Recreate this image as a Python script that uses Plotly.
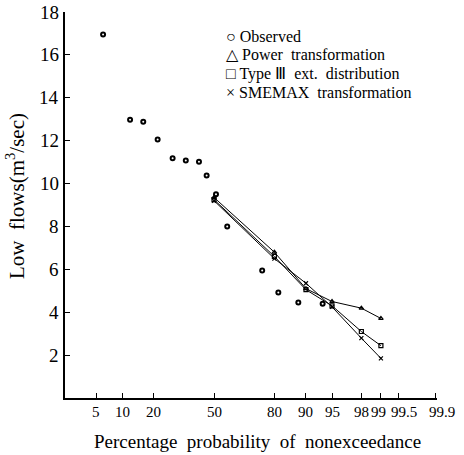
from statistics import NormalDist
import plotly.graph_objects as go

nd = NormalDist()
def z(p):
    return nd.inv_cdf(p / 100.0)

# Observed low flows (plotting position %, m3/sec)
obs_p = [6.1, 12.1, 16.2, 21.6, 28.2, 34.7, 41.7, 45.9, 51.1, 57.3, 74.9, 81.5, 88.0, 93.5]
obs_q = [16.95, 12.98, 12.88, 12.05, 11.18, 11.08, 11.02, 10.38, 9.5, 8.0, 5.94, 4.92, 4.45, 4.39]

# Estimated quantiles at selected probabilities
fit_p = [50, 80, 90, 95, 98, 99]
power_q = [9.35, 6.8, 5.1, 4.5, 4.19, 3.71]
type3_q = [9.25, 6.6, 5.05, 4.3, 3.1, 2.44]
smemax_q = [9.2, 6.5, 5.35, 4.25, 2.79, 1.85]

tick_p = [5, 10, 20, 50, 80, 90, 95, 98, 99, 99.5, 99.9]
tick_text = ["5", "10", "20", "50", "80", "90", "95", "98", "99", "99.5", "99.9"]
y_ticks = [2, 4, 6, 8, 10, 12, 14, 16, 18]

legend_lines = ["○ Observed", "△ Power  transformation",
                "□ Type Ⅲ  ext.  distribution", "× SMEMAX  transformation"]

FONT = "Liberation Serif, Times New Roman, serif"
L, R, T, B = 65, 27, 12, 57
PW, PH = 464 - L - R, 455 - T - B
label_shift = {"99": -2, "99.5": 5, "99.9": 6}

fig = go.Figure()
fig.add_trace(go.Scatter(x=[z(p) for p in obs_p], y=obs_q, mode="markers",
                         marker=dict(symbol="circle-open", size=4, color="black",
                                     line=dict(width=2, color="black")),
                         name="Observed"))
for q, sym in [(power_q, "triangle-up-open"), (type3_q, "square-open"), (smemax_q, "x-thin")]:
    fig.add_trace(go.Scatter(x=[z(p) for p in fit_p], y=q, mode="lines+markers",
                             line=dict(color="black", width=1),
                             marker=dict(symbol=sym, size=4, color="black",
                                         line=dict(width=1.2, color="black"))))

for i, t in enumerate(legend_lines):
    fig.add_annotation(x=(224 - L) / PW, y=(455 - B - 36 - i * 19) / PH, xref="paper", yref="paper",
                       text=t, showarrow=False, xanchor="left", yanchor="middle",
                       font=dict(family=FONT, size=16, color="black"))

for p, t in zip(tick_p, tick_text):
    fig.add_annotation(x=z(p), y=0, xref="x", yref="y", text=t, showarrow=False,
                       xanchor="center", yanchor="middle", yshift=-14,
                       xshift=label_shift.get(t, 0),
                       font=dict(family=FONT, size=15, color="black"))

for v in y_ticks:
    fig.add_annotation(x=0, y=v, xref="paper", yref="y", text=str(v), showarrow=False,
                       xanchor="right", yanchor="middle", xshift=-4,
                       font=dict(family=FONT, size=19, color="black"))

fig.add_annotation(x=(15 - L) / PW, y=(455 - B - 196) / PH, xref="paper", yref="paper",
                   text="Low  flows(m<sup>3</sup>/sec)", showarrow=False, textangle=-90,
                   xanchor="center", yanchor="middle",
                   font=dict(family=FONT, size=21, color="black"))

fig.add_annotation(x=(257 - L) / PW, y=(455 - B - 441) / PH, xref="paper", yref="paper",
                   text="Percentage  probability  of  nonexceedance", showarrow=False,
                   xanchor="center", yanchor="middle",
                   font=dict(family=FONT, size=19, color="black"))

fig.update_layout(
    width=464, height=455, margin=dict(l=L, r=R, t=T, b=B, autoexpand=False),
    paper_bgcolor="white", plot_bgcolor="white", showlegend=False,
    font=dict(family=FONT, color="black"),
    xaxis=dict(range=[-2.077, 3.108], tickvals=[z(p) for p in tick_p], showticklabels=False,
               automargin=False, ticks="inside", ticklen=5, tickwidth=1.2, tickcolor="black",
               showline=True, linecolor="black", linewidth=1.8, showgrid=False, zeroline=False),
    yaxis=dict(range=[0, 18], tickvals=y_ticks, showticklabels=False, ticks="inside",
               ticklen=5, tickwidth=1.2, automargin=False,
               tickcolor="black", showline=True, linecolor="black", linewidth=1.8,
               showgrid=False, zeroline=False),
)
fig.write_html("out.html")
